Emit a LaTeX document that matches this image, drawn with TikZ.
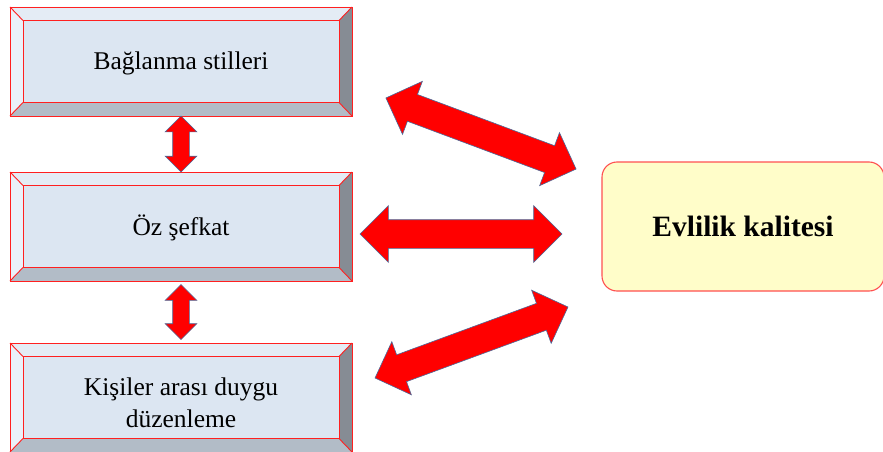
\documentclass[tikz,border=0pt]{standalone}
\usepackage{fontspec}
\setmainfont{Liberation Serif}
\usetikzlibrary{shapes.arrows,calc}
\definecolor{facec}{HTML}{DCE6F2}
\definecolor{topc}{HTML}{E4ECF5}
\definecolor{leftc}{HTML}{EAF1F9}
\definecolor{rightc}{HTML}{868C94}
\definecolor{botc}{HTML}{B2BCC7}
\definecolor{edgec}{HTML}{FF2020}
\definecolor{yelc}{HTML}{FFFDC9}
\definecolor{yeledge}{HTML}{FF5050}
\definecolor{arrowedge}{HTML}{4A6A9A}
\tikzset{
  bevelline/.style={draw=edgec, line width=0.9pt},
  boxtext/.style={font=\fontsize{25.5}{31.5}\selectfont, inner sep=0pt, align=center},
  bigarrow/.style={double arrow, double arrow tip angle=90, fill=red, draw=arrowedge,
    line width=0.6pt, inner sep=0pt, text height=28pt, text depth=0pt,
    double arrow head extend=14pt},
  smallarrow/.style={double arrow, double arrow tip angle=90, fill=red, draw=arrowedge,
    line width=0.6pt, inner sep=0pt, text height=16pt, text depth=0pt,
    double arrow head extend=7.5pt, rotate=90},
  goalbox/.style={draw=yeledge, fill=yelc, line width=1.1pt, rounded corners=15pt,
    minimum width=282pt, minimum height=129pt, inner sep=0pt,
    font=\bfseries\fontsize{29.5}{35}\selectfont}
}
% #1 name, #2 cx, #3 cy
\newcommand\bevelbox[3]{%
  \coordinate (#1-onw) at (#2-171,#3-54.5);
  \coordinate (#1-one) at (#2+171,#3-54.5);
  \coordinate (#1-osw) at (#2-171,#3+54.5);
  \coordinate (#1-ose) at (#2+171,#3+54.5);
  \coordinate (#1-inw) at (#2-158,#3-41);
  \coordinate (#1-ine) at (#2+158,#3-41);
  \coordinate (#1-isw) at (#2-158,#3+41);
  \coordinate (#1-ise) at (#2+158,#3+41);
  \fill[topc] (#1-onw) -- (#1-one) -- (#1-ine) -- (#1-inw) -- cycle;
  \fill[leftc] (#1-onw) -- (#1-inw) -- (#1-isw) -- (#1-osw) -- cycle;
  \fill[rightc] (#1-one) -- (#1-ose) -- (#1-ise) -- (#1-ine) -- cycle;
  \fill[botc] (#1-osw) -- (#1-isw) -- (#1-ise) -- (#1-ose) -- cycle;
  \node[fill=facec, bevelline, minimum width=316pt, minimum height=82pt, inner sep=0pt] (#1) at (#2,#3) {};
  \draw[bevelline] (#1-onw) rectangle (#1-ose);
  \draw[bevelline] (#1-onw) -- (#1-inw) (#1-one) -- (#1-ine) (#1-osw) -- (#1-isw) (#1-ose) -- (#1-ise);
}
\begin{document}
\begin{tikzpicture}[x=1pt,y=-1pt]
\useasboundingbox (0,0) rectangle (883,452);
\bevelbox{b1}{181}{61.5}
\bevelbox{b2}{181}{226.5}
\bevelbox{b3}{181}{397.5}
\node[boxtext, anchor=base] (t1) at (181,70) {Bağlanma stilleri};
\node[boxtext, anchor=base] (t2) at (181,235) {Öz şefkat};
\node[boxtext, anchor=base] (t3) at (181,427) {Kişiler arası duygu\\düzenleme};
\node[goalbox] (goal) at (743,226.5) {Evlilik kalitesi};
\node[smallarrow, minimum height=56pt] (v1) at ($(b1-osw)!0.5!(b2-one)$) {};
\node[smallarrow, minimum height=55pt] (v2) at ($(b2-osw)!0.5!(b3-one)$) {};
\node[bigarrow, minimum height=202pt] (h2) at (461,234) {};
\node[bigarrow, minimum height=203pt, rotate=-20.5] (h1) at (481,133.5) {};
\node[bigarrow, minimum height=205.6pt, rotate=20.2] (h3) at (471.5,342.5) {};
\end{tikzpicture}
\end{document}
